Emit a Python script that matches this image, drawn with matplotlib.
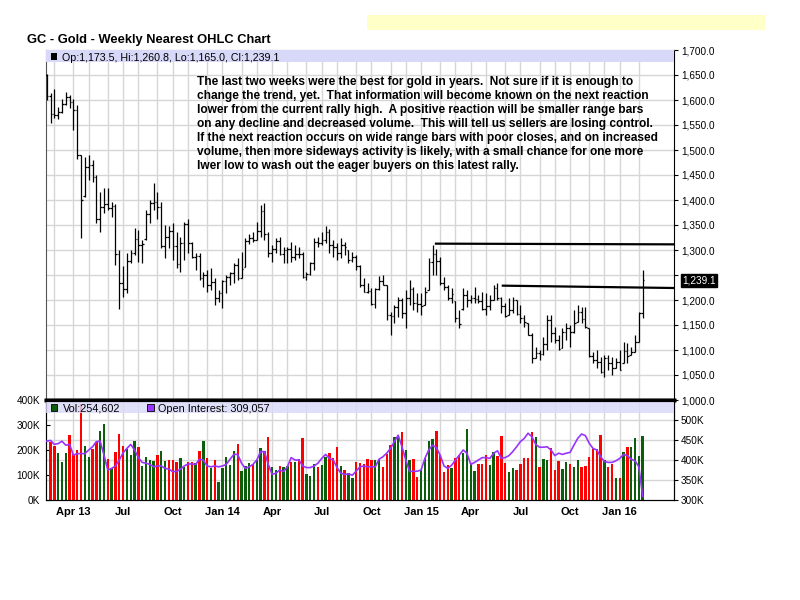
import numpy as np
import pandas as pd
import matplotlib
matplotlib.use("Agg")
import matplotlib.pyplot as plt
from matplotlib.patches import Rectangle

plt.rcParams['font.family'] = ['Liberation Sans', 'DejaVu Sans']

# weekly bars, Feb 15 2013 .. Feb 12 2016
weeks = pd.date_range("2013-02-15", periods=157, freq="7D")

highs = [1653, 1614, 1622, 1586, 1602, 1616, 1610, 1603, 1590, 1490,
         1486, 1490, 1480, 1450, 1416, 1424, 1424, 1396, 1392, 1300,
         1268, 1295, 1300, 1345, 1340, 1320, 1380, 1400, 1434, 1416,
         1396, 1350, 1348, 1354, 1336, 1326, 1356, 1362, 1316, 1294,
         1294, 1256, 1260, 1264, 1244, 1220, 1240, 1250, 1256, 1274,
         1284, 1296, 1324, 1332, 1336, 1356, 1390, 1394, 1336, 1310,
         1324, 1326, 1306, 1306, 1316, 1310, 1306, 1296, 1256, 1276,
         1324, 1326, 1336, 1348, 1342, 1320, 1314, 1324, 1316, 1300,
         1296, 1290, 1270, 1244, 1234, 1224, 1224, 1248, 1250, 1230,
         1176, 1190, 1206, 1204, 1220, 1240, 1226, 1214, 1214, 1226,
         1284, 1310, 1302, 1286, 1246, 1230, 1224, 1198, 1180, 1224,
         1220, 1210, 1226, 1210, 1216, 1214, 1210, 1230, 1234, 1206,
         1194, 1204, 1206, 1200, 1190, 1170, 1154, 1134, 1106, 1100,
         1126, 1170, 1170, 1146, 1130, 1144, 1154, 1150, 1180, 1190,
         1186, 1186, 1144, 1096, 1100, 1086, 1090, 1090, 1086, 1084,
         1100, 1116, 1114, 1106, 1130, 1176, 1260.8]

lows = [1601, 1554, 1564, 1562, 1574, 1590, 1584, 1540, 1482, 1324,
        1406, 1440, 1436, 1354, 1336, 1374, 1380, 1366, 1270, 1182,
        1206, 1214, 1274, 1290, 1276, 1274, 1320, 1354, 1380, 1362,
        1305, 1284, 1305, 1280, 1264, 1256, 1280, 1294, 1284, 1260,
        1241, 1226, 1216, 1220, 1190, 1196, 1184, 1214, 1230, 1234,
        1240, 1244, 1266, 1312, 1316, 1320, 1326, 1320, 1286, 1276,
        1294, 1290, 1274, 1274, 1276, 1280, 1284, 1244, 1240, 1250,
        1260, 1306, 1310, 1314, 1294, 1286, 1280, 1284, 1290, 1274,
        1276, 1260, 1226, 1216, 1214, 1190, 1184, 1220, 1230, 1160,
        1130, 1154, 1166, 1164, 1144, 1190, 1180, 1176, 1170, 1190,
        1220, 1250, 1250, 1230, 1220, 1200, 1194, 1156, 1144, 1180,
        1186, 1194, 1194, 1194, 1180, 1170, 1180, 1200, 1200, 1174,
        1166, 1170, 1174, 1170, 1154, 1146, 1130, 1074, 1084, 1080,
        1090, 1100, 1116, 1114, 1100, 1104, 1120, 1106, 1134, 1156,
        1154, 1144, 1086, 1074, 1064, 1054, 1046, 1060, 1050, 1064,
        1060, 1074, 1074, 1090, 1096, 1116, 1165.0]

opens = [1650, 1609, 1572, 1571, 1577, 1592, 1606, 1596, 1580, 1490,
         1408, 1466, 1470, 1446, 1362, 1386, 1392, 1384, 1388, 1292,
         1234, 1222, 1278, 1295, 1322, 1310, 1322, 1372, 1395, 1396,
         1386, 1308, 1326, 1338, 1309, 1272, 1315, 1352, 1315, 1286,
         1288, 1244, 1250, 1230, 1236, 1204, 1214, 1238, 1247, 1254,
         1270, 1244, 1266, 1318, 1324, 1321, 1338, 1379, 1333, 1294,
         1303, 1318, 1293, 1301, 1302, 1287, 1293, 1292, 1246, 1252,
         1274, 1316, 1314, 1320, 1337, 1310, 1307, 1294, 1310, 1300,
         1280, 1287, 1268, 1231, 1216, 1218, 1192, 1222, 1238, 1230,
         1171, 1169, 1186, 1201, 1175, 1205, 1222, 1195, 1193, 1190,
         1220, 1277, 1293, 1279, 1234, 1227, 1204, 1198, 1164, 1182,
         1210, 1200, 1204, 1203, 1198, 1182, 1189, 1200, 1225, 1205,
         1189, 1170, 1180, 1200, 1173, 1164, 1154, 1131, 1085, 1094,
         1092, 1113, 1160, 1134, 1121, 1104, 1137, 1145, 1137, 1156,
         1177, 1162, 1144, 1088, 1081, 1076, 1057, 1084, 1075, 1065,
         1076, 1074, 1098, 1090, 1097, 1116, 1173.5]

closes = [1609, 1572, 1571, 1577, 1592, 1606, 1596, 1580, 1490, 1400,
          1466, 1470, 1446, 1362, 1386, 1392, 1384, 1388, 1292, 1234,
          1222, 1278, 1295, 1322, 1310, 1313, 1372, 1395, 1396, 1386,
          1308, 1326, 1338, 1309, 1272, 1315, 1352, 1315, 1286, 1288,
          1244, 1250, 1230, 1236, 1204, 1214, 1238, 1247, 1254, 1270,
          1244, 1263, 1318, 1324, 1321, 1338, 1379, 1333, 1294, 1303,
          1318, 1293, 1301, 1302, 1287, 1293, 1292, 1246, 1252, 1274,
          1316, 1314, 1320, 1337, 1310, 1307, 1294, 1310, 1306, 1280,
          1287, 1268, 1231, 1216, 1218, 1192, 1222, 1238, 1231, 1171,
          1169, 1186, 1201, 1175, 1205, 1222, 1195, 1193, 1189, 1216,
          1277, 1293, 1279, 1234, 1227, 1204, 1212, 1164, 1152, 1210,
          1200, 1204, 1203, 1198, 1182, 1189, 1200, 1225, 1205, 1189,
          1168, 1180, 1201, 1173, 1164, 1157, 1131, 1085, 1094, 1092,
          1113, 1160, 1134, 1121, 1103, 1137, 1145, 1137, 1155, 1177,
          1162, 1146, 1088, 1081, 1076, 1057, 1084, 1075, 1065, 1076,
          1061, 1098, 1089, 1097, 1116, 1173.5, 1239.1]

# volume in thousands, 1 = up week (green), 0 = down week (red)
volume = [0, 233, 217, 189, 153, 189, 260, 185, 200, 385,
          216, 173, 205, 233, 276, 304, 164, 129, 193, 264,
          217, 203, 180, 236, 212, 136, 172, 160, 157, 180,
          195, 156, 160, 160, 151, 169, 133, 151, 151, 147,
          197, 236, 167, 129, 160, 73, 127, 173, 140, 197,
          224, 117, 136, 147, 143, 160, 209, 197, 253, 133,
          120, 136, 133, 136, 153, 153, 164, 248, 104, 96,
          144, 132, 140, 173, 188, 167, 213, 136, 120, 109,
          89, 153, 147, 143, 164, 160, 160, 164, 133, 183,
          220, 251, 253, 273, 200, 160, 164, 92, 122, 169,
          236, 244, 276, 180, 113, 140, 129, 167, 180, 189,
          284, 147, 117, 144, 144, 180, 140, 192, 176, 256,
          149, 113, 129, 120, 144, 169, 169, 273, 252, 133,
          164, 160, 209, 120, 156, 124, 151, 144, 133, 160,
          133, 136, 173, 203, 203, 260, 160, 133, 144, 89,
          89, 191, 212, 212, 247, 176, 254.602]

vol_up = [0, 0, 0, 1, 1, 1, 0, 0, 0, 0,
          1, 1, 0, 0, 1, 1, 0, 1, 0, 0,
          0, 1, 1, 1, 0, 1, 1, 1, 1, 0,
          1, 1, 0, 0, 0, 1, 1, 0, 0, 1,
          0, 1, 0, 1, 0, 1, 1, 1, 1, 1,
          0, 1, 1, 1, 0, 1, 1, 0, 0, 1,
          1, 0, 1, 1, 0, 1, 0, 0, 1, 1,
          1, 0, 1, 1, 0, 0, 0, 1, 0, 1,
          1, 0, 0, 0, 0, 0, 1, 1, 0, 0,
          0, 1, 1, 0, 1, 1, 0, 0, 1, 1,
          1, 1, 0, 0, 0, 0, 1, 0, 0, 1,
          1, 1, 1, 0, 0, 0, 1, 1, 0, 0,
          0, 1, 1, 0, 0, 0, 0, 0, 1, 0,
          1, 1, 0, 0, 0, 1, 1, 0, 1, 1,
          0, 0, 0, 0, 0, 0, 1, 0, 0, 1,
          0, 1, 0, 1, 1, 1, 1]

open_interest = [447, 449, 439, 441, 447, 437, 439, 412, 416, 416,
                 416, 425, 433, 446, 447, 412, 375, 379, 385, 400,
                 418, 429, 439, 425, 406, 394, 392, 389, 383, 385,
                 385, 379, 377, 371, 371, 377, 385, 390, 390, 389,
                 402, 400, 385, 383, 385, 383, 385, 389, 402, 414,
                 414, 392, 379, 383, 389, 400, 421, 421, 389, 364,
                 367, 375, 371, 383, 406, 400, 400, 385, 381, 381,
                 385, 392, 404, 414, 404, 400, 381, 367, 364, 365,
                 362, 372, 383, 385, 383, 383, 383, 402, 408, 417,
                 429, 446, 462, 433, 400, 371, 372, 372, 375, 404,
                 425, 437, 431, 412, 385, 379, 387, 400, 412, 425,
                 417, 389, 394, 400, 406, 406, 404, 417, 423, 404,
                 406, 411, 421, 433, 446, 454, 467, 458, 439, 432,
                 432, 433, 425, 411, 417, 414, 417, 419, 437, 454,
                 465, 461, 442, 429, 425, 408, 396, 394, 394, 398,
                 404, 414, 411, 402, 398, 383, 309.057]

tick_labels = ["Apr 13", "Jul", "Oct", "Jan 14", "Apr", "Jul", "Oct",
               "Jan 15", "Apr", "Jul", "Oct", "Jan 16"]

# hand drawn resistance lines: start bar, price at left, price at right edge
line_start = [101.6, 119.1]
line_left = [1312.7, 1228.7]
line_right = [1311.3, 1224.0]

note_lines = [
    "The last two weeks were the best for gold in years.  Not sure if it is enough to",
    "change the trend, yet.  That information will become known on the next reaction",
    "lower from the current rally high.  A positive reaction will be smaller range bars",
    "on any decline and decreased volume.  This will tell us sellers are losing control.",
    "If the next reaction occurs on wide range bars with poor closes, and on increased",
    "volume, then more sideways activity is likely, with a small chance for one more",
    "lwer low to wash out the eager buyers on this latest rally.",
]

x = np.arange(len(weeks))
month_idx = [i for i in range(1, len(weeks)) if weeks[i].month != weeks[i - 1].month]
quarter_idx = [i for i in month_idx if weeks[i].month in (1, 4, 7, 10)]
xmin, xmax = -0.31, 164.2

grid_c = '#d6d6d6'
band_c = '#d8d8f8'
green = '#0b5e0b'
red = '#ff0000'

fig = plt.figure(figsize=(8, 6), dpi=100)
L = 45.5 / 800
W = 674 / 800 - L
axp = fig.add_axes([L, 1 - 400 / 600, W, 350 / 600])
axv = fig.add_axes([L, 1 - 500 / 600, W, 100 / 600])

# price panel
axp.vlines(x, lows, highs, color='black', lw=0.9, zorder=4)
axp.hlines(opens, x - 0.45, x, color='black', lw=0.9, zorder=4)
axp.hlines(closes, x, x + 0.45, color='black', lw=0.9, zorder=4)
for s, a, b in zip(line_start, line_left, line_right):
    axp.plot([s, xmax], [a, b], color='black', lw=1.6, zorder=5, solid_capstyle='butt')

price_ticks = np.arange(1000, 1701, 50)
axp.set_xlim(xmin, xmax)
axp.set_ylim(1000, 1700)
axp.set_xticks(month_idx)
axp.set_xticklabels([])
axp.set_yticks(price_ticks)
# the last-price box hides the tick label it sits on
axp.set_yticklabels(["" if abs(v - closes[-1]) < 20 else f"{v:,.1f}" for v in price_ticks])
axp.yaxis.tick_right()
axp.tick_params(axis='x', length=0)
axp.tick_params(axis='y', direction='out', length=3, pad=2, labelsize=7.2)
axp.grid(True, color=grid_c, lw=1)
axp.set_axisbelow(True)
for sp in ['left', 'top']:
    axp.spines[sp].set_color('#555555')
axp.spines['right'].set_color('black')
axp.spines['bottom'].set_linewidth(2.5)
axp.add_patch(Rectangle((0, 1 - 12 / 350), 1, 12 / 350, transform=axp.transAxes,
                        color=band_c, zorder=6, lw=0))

axp.annotate(f"{closes[-1]:,.1f}", xy=(1.0, closes[-1]), xycoords=('axes fraction', 'data'),
             xytext=(6, 0), textcoords='offset points', ha='left', va='center',
             fontsize=7.2, color='white', annotation_clip=False,
             bbox=dict(boxstyle='square,pad=0.15', fc='black', ec='black'))

# volume panel
vcols = [green if u else red for u in vol_up]
axv.bar(x, volume, width=0.62, color=vcols, zorder=2)
axv.set_xlim(xmin, xmax)
axv.set_ylim(0, 400)
axv.set_yticks(np.arange(0, 401, 100))
axv.set_yticklabels([f"{v}K" for v in range(0, 401, 100)])
axv.set_xticks(month_idx, minor=True)
axv.set_xticks(quarter_idx)
axv.set_xticklabels(tick_labels, fontweight='bold', fontsize=8)
axv.tick_params(axis='x', which='both', length=0, pad=5)
axv.tick_params(axis='y', direction='in', length=3, pad=4, labelsize=7.2)
axv.grid(True, axis='x', which='both', color=grid_c, lw=1)
axv.set_axisbelow(True)
axv.spines['top'].set_linewidth(2.5)
axv.spines['left'].set_color('#555555')

oi_ticks = np.arange(300, 501, 50)
for t in oi_ticks[1:]:
    axv.axhline((t - 300) / 250 * 400, color=grid_c, lw=1, zorder=0)

axoi = axv.twinx()
axoi.plot(x, open_interest, color='#9933ff', lw=1.2, zorder=3)
axoi.set_ylim(300, 550)
axoi.set_yticks(oi_ticks)
axoi.set_yticklabels([f"{v}K" for v in oi_ticks])
axoi.tick_params(axis='y', direction='out', length=3, pad=2, labelsize=7.2)
axoi.spines['top'].set_linewidth(2.5)

axoi.add_patch(Rectangle((0, 0.87), 1, 0.115, transform=axoi.transAxes,
                         color=band_c, alpha=0.8, zorder=6, lw=0))

# header texts
fig.patches.append(Rectangle((367 / 800, 1 - 30 / 600), 398 / 800, 15 / 600,
                             transform=fig.transFigure, color='#ffffc8', lw=0))
fig.text(27 / 800, 1 - 42.7 / 600, "GC - Gold - Weekly Nearest OHLC Chart",
         fontsize=9.3, fontweight='bold', va='baseline')

fig.patches.append(Rectangle((51 / 800, 1 - 60 / 600), 6 / 800, 6.5 / 600,
                             transform=fig.transFigure, color='black', lw=0, zorder=7))
fig.text(62.5 / 800, 1 - 60.7 / 600,
         f"Op:{opens[-1]:,.1f}, Hi:{highs[-1]:,.1f}, Lo:{lows[-1]:,.1f}, Cl:{closes[-1]:,.1f}",
         fontsize=7.7, va='baseline', zorder=8)

fig.patches.append(Rectangle((51 / 800, 1 - 410.7 / 600), 6.5 / 800, 6.5 / 600,
                             transform=fig.transFigure, fc=green, ec='black', lw=0.6, zorder=7))
fig.text(62.5 / 800, 1 - 411.5 / 600, f"Vol:{volume[-1] * 1000:,.0f}",
         fontsize=7.8, va='baseline', zorder=8)
fig.patches.append(Rectangle((147 / 800, 1 - 410.7 / 600), 6.5 / 800, 6.5 / 600,
                             transform=fig.transFigure, fc='#9933ff', ec='black', lw=0.6, zorder=7))
fig.text(158.3 / 800, 1 - 411.5 / 600, f"Open Interest: {open_interest[-1] * 1000:,.0f}",
         fontsize=7.8, va='baseline', zorder=8)

for k, line in enumerate(note_lines):
    fig.text(197 / 800, 1 - (85 + 14 * k) / 600, line, fontsize=8.55,
             fontweight='bold', va='baseline', zorder=8)

fig.savefig("out.png", dpi=100)
